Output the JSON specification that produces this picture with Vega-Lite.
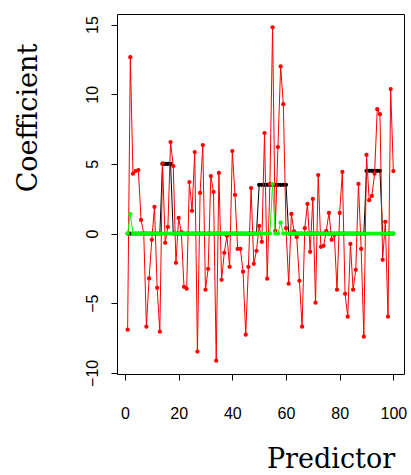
{
  "$schema": "https://vega.github.io/schema/vega-lite/v6.json",
  "width": 287,
  "height": 360,
  "autosize": {"type": "none"},
  "padding": {"left": 117, "top": 14, "right": 7, "bottom": 101},
  "background": "white",
  "config": {
    "view": {"stroke": "#000", "strokeWidth": 1},
    "axis": {
      "grid": false, "domain": false, "tickColor": "#000", "tickSize": 6, "tickWidth": 1,
      "labelFont": "Liberation Sans", "labelFontSize": 16, "labelColor": "#000",
      "titleFont": "DejaVu Serif", "titleFontSize": 27, "titleFontWeight": "normal", "titleColor": "#000"
    }
  },
  "data": {"values": [
    {"p":1,"truth":0,"est1":-6.9,"est2":0},
    {"p":2,"truth":0,"est1":12.66,"est2":1.4},
    {"p":3,"truth":0,"est1":4.3,"est2":0},
    {"p":4,"truth":0,"est1":4.49,"est2":0},
    {"p":5,"truth":0,"est1":4.56,"est2":0},
    {"p":6,"truth":0,"est1":0.98,"est2":0},
    {"p":7,"truth":0,"est1":0.02,"est2":0},
    {"p":8,"truth":0,"est1":-6.68,"est2":0},
    {"p":9,"truth":0,"est1":-3.22,"est2":0},
    {"p":10,"truth":0,"est1":-0.45,"est2":0},
    {"p":11,"truth":0,"est1":1.91,"est2":0},
    {"p":12,"truth":0,"est1":-3.89,"est2":0},
    {"p":13,"truth":0,"est1":-7.04,"est2":0},
    {"p":14,"truth":5,"est1":5.04,"est2":0},
    {"p":15,"truth":5,"est1":-0.66,"est2":0},
    {"p":16,"truth":5,"est1":0.48,"est2":0},
    {"p":17,"truth":5,"est1":6.57,"est2":0},
    {"p":18,"truth":0,"est1":4.85,"est2":0},
    {"p":19,"truth":0,"est1":-2.1,"est2":0},
    {"p":20,"truth":0,"est1":1.12,"est2":0},
    {"p":21,"truth":0,"est1":0.1,"est2":0},
    {"p":22,"truth":0,"est1":-3.82,"est2":0},
    {"p":23,"truth":0,"est1":-3.96,"est2":0},
    {"p":24,"truth":0,"est1":3.7,"est2":0},
    {"p":25,"truth":0,"est1":1.63,"est2":0},
    {"p":26,"truth":0,"est1":5.85,"est2":0},
    {"p":27,"truth":0,"est1":-8.47,"est2":0},
    {"p":28,"truth":0,"est1":2.92,"est2":0},
    {"p":29,"truth":0,"est1":6.35,"est2":0},
    {"p":30,"truth":0,"est1":-4.03,"est2":0},
    {"p":31,"truth":0,"est1":-2.53,"est2":0},
    {"p":32,"truth":0,"est1":4.13,"est2":0},
    {"p":33,"truth":0,"est1":2.99,"est2":0},
    {"p":34,"truth":0,"est1":-9.12,"est2":0},
    {"p":35,"truth":0,"est1":4.35,"est2":0},
    {"p":36,"truth":0,"est1":-3.32,"est2":0},
    {"p":37,"truth":0,"est1":-1.38,"est2":0},
    {"p":38,"truth":0,"est1":-0.16,"est2":0},
    {"p":39,"truth":0,"est1":-2.39,"est2":0},
    {"p":40,"truth":0,"est1":5.92,"est2":0},
    {"p":41,"truth":0,"est1":2.77,"est2":0},
    {"p":42,"truth":0,"est1":-1.1,"est2":0},
    {"p":43,"truth":0,"est1":-1.1,"est2":0},
    {"p":44,"truth":0,"est1":-2.74,"est2":0},
    {"p":45,"truth":0,"est1":-7.26,"est2":0},
    {"p":46,"truth":0,"est1":-2.39,"est2":0},
    {"p":47,"truth":0,"est1":3.27,"est2":0},
    {"p":48,"truth":0,"est1":-2.17,"est2":0},
    {"p":49,"truth":0,"est1":-1.24,"est2":0},
    {"p":50,"truth":3.5,"est1":0.55,"est2":0},
    {"p":51,"truth":3.5,"est1":-0.59,"est2":0},
    {"p":52,"truth":3.5,"est1":7.21,"est2":0},
    {"p":53,"truth":3.5,"est1":-3.24,"est2":0},
    {"p":54,"truth":3.5,"est1":3.56,"est2":0},
    {"p":55,"truth":3.5,"est1":14.8,"est2":3.55},
    {"p":56,"truth":3.5,"est1":0.2,"est2":0},
    {"p":57,"truth":3.5,"est1":6.21,"est2":0},
    {"p":58,"truth":3.5,"est1":12.0,"est2":0.78},
    {"p":59,"truth":3.5,"est1":9.29,"est2":0},
    {"p":60,"truth":3.5,"est1":0.39,"est2":0},
    {"p":61,"truth":0,"est1":-3.6,"est2":0},
    {"p":62,"truth":0,"est1":1.41,"est2":0},
    {"p":63,"truth":0,"est1":0.15,"est2":0},
    {"p":64,"truth":0,"est1":-0.26,"est2":0},
    {"p":65,"truth":0,"est1":-3.39,"est2":0},
    {"p":66,"truth":0,"est1":-6.68,"est2":0},
    {"p":67,"truth":0,"est1":0.39,"est2":0},
    {"p":68,"truth":0,"est1":2.13,"est2":0},
    {"p":69,"truth":0,"est1":-1.31,"est2":0},
    {"p":70,"truth":0,"est1":2.49,"est2":0},
    {"p":71,"truth":0,"est1":-4.96,"est2":0},
    {"p":72,"truth":0,"est1":4.2,"est2":0},
    {"p":73,"truth":0,"est1":-0.95,"est2":0},
    {"p":74,"truth":0,"est1":-0.88,"est2":0},
    {"p":75,"truth":0,"est1":0.19,"est2":0},
    {"p":76,"truth":0,"est1":1.48,"est2":0},
    {"p":77,"truth":0,"est1":-0.45,"est2":0},
    {"p":78,"truth":0,"est1":-0.1,"est2":0},
    {"p":79,"truth":0,"est1":-4.03,"est2":0},
    {"p":80,"truth":0,"est1":1.48,"est2":0},
    {"p":81,"truth":0,"est1":4.42,"est2":0},
    {"p":82,"truth":0,"est1":-4.32,"est2":0},
    {"p":83,"truth":0,"est1":-5.97,"est2":0},
    {"p":84,"truth":0,"est1":-0.74,"est2":0},
    {"p":85,"truth":0,"est1":-4.03,"est2":0},
    {"p":86,"truth":0,"est1":-2.6,"est2":0},
    {"p":87,"truth":0,"est1":3.56,"est2":0},
    {"p":88,"truth":0,"est1":-1.1,"est2":0},
    {"p":89,"truth":0,"est1":-7.4,"est2":0},
    {"p":90,"truth":4.5,"est1":5.64,"est2":0},
    {"p":91,"truth":4.5,"est1":2.4,"est2":0},
    {"p":92,"truth":4.5,"est1":2.7,"est2":0},
    {"p":93,"truth":4.5,"est1":4.3,"est2":0},
    {"p":94,"truth":4.5,"est1":8.93,"est2":0},
    {"p":95,"truth":4.5,"est1":8.57,"est2":0},
    {"p":96,"truth":0,"est1":-1.88,"est2":0},
    {"p":97,"truth":0,"est1":0.84,"est2":0},
    {"p":98,"truth":0,"est1":-5.97,"est2":0},
    {"p":99,"truth":0,"est1":10.37,"est2":0},
    {"p":100,"truth":0,"est1":4.49,"est2":0}
  ]},
  "encoding": {
    "x": {
      "field": "p", "type": "quantitative",
      "scale": {"domain": [-2.96, 103.96], "nice": false, "zero": false},
      "axis": {
        "values": [0, 20, 40, 60, 80, 100], "title": "Predictor",
        "labelAngle": 0, "labelPadding": 25, "labelBaseline": "top",
        "titleAlign": "center", "titleAnchor": "start", "titleX": 213.5, "titleY": 93, "titleBaseline": "alphabetic"
      }
    }
  },
  "layer": [
    {
      "mark": {"type": "line", "color": "#000000", "strokeWidth": 1},
      "encoding": {
        "y": {
          "field": "truth", "type": "quantitative",
          "scale": {"domain": [-10.08, 15.76], "nice": false, "zero": false},
          "axis": {
            "values": [-10, -5, 0, 5, 10, 15], "title": "Coefficient",
            "labelAngle": 270, "labelAlign": "center", "labelBaseline": "alphabetic", "labelPadding": 14,
            "titleAngle": 270, "titleAlign": "center", "titleAnchor": "start", "titleBaseline": "alphabetic",
            "titleX": -81, "titleY": 103.5
          }
        }
      }
    },
    {
      "mark": {"type": "circle", "color": "#000000", "size": 18, "opacity": 1},
      "encoding": {"y": {"field": "truth", "type": "quantitative"}}
    },
    {
      "mark": {"type": "line", "color": "#ff0000", "strokeWidth": 1},
      "encoding": {"y": {"field": "est1", "type": "quantitative"}}
    },
    {
      "mark": {"type": "circle", "color": "#ff0000", "size": 18, "opacity": 1},
      "encoding": {"y": {"field": "est1", "type": "quantitative"}}
    },
    {
      "mark": {"type": "line", "color": "#00ff00", "strokeWidth": 1},
      "encoding": {"y": {"field": "est2", "type": "quantitative"}}
    },
    {
      "mark": {"type": "circle", "color": "#00ff00", "size": 18, "opacity": 1},
      "encoding": {"y": {"field": "est2", "type": "quantitative"}}
    }
  ]
}
